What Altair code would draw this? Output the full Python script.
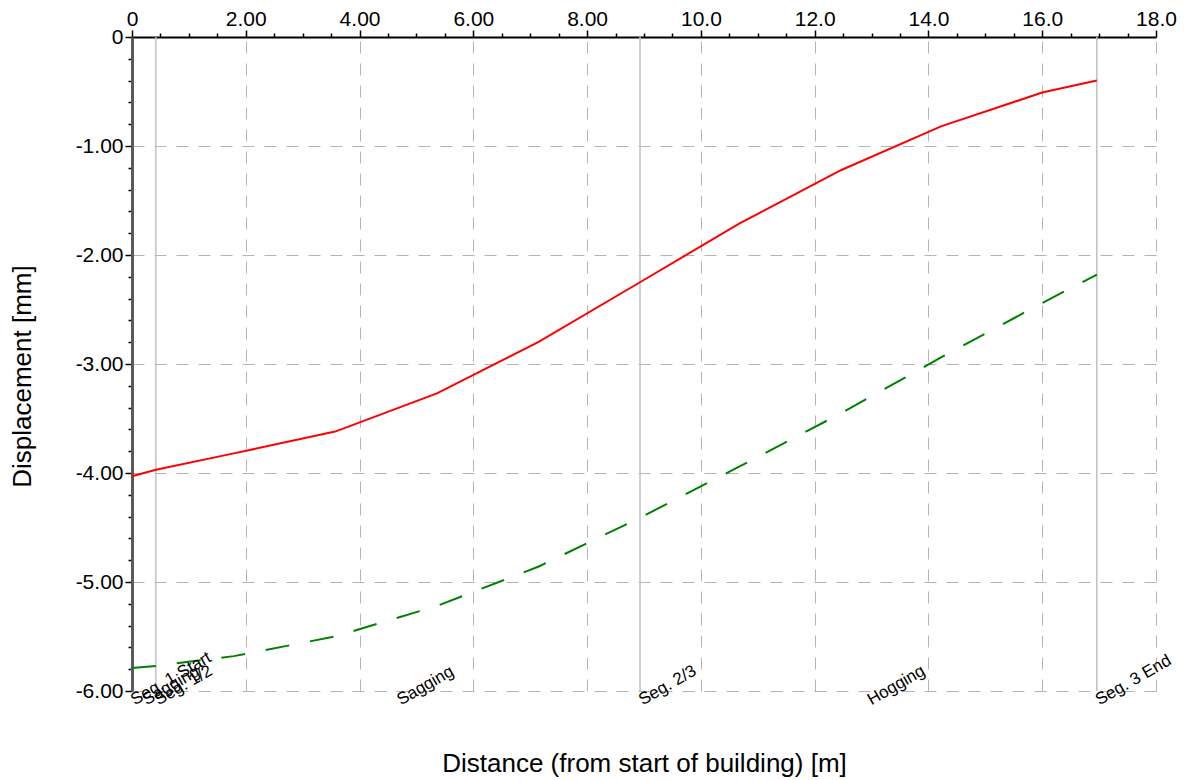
import altair as alt
import pandas as pd

# Stations along the building [m]
dist = [0, 0.42, 1.79, 3.57, 5.36, 7.14, 8.93, 10.68, 12.47, 14.22, 16.0, 16.96]
# Displacement series [mm]
red_disp = [-4.03, -3.97, -3.82, -3.62, -3.27, -2.80, -2.25, -1.71, -1.22, -0.82, -0.51, -0.40]
green_disp = [-5.79, -5.77, -5.68, -5.50, -5.22, -4.86, -4.41, -3.94, -3.45, -2.94, -2.44, -2.18]

# Segment boundaries and labels
seg_x = [0.42, 8.93, 16.96]
label_text = ["Seg. 1 Start", "Sagging", "Seg. 1/2", "Sagging", "Seg. 2/3", "Hogging", "Seg. 3 End"]
label_x = [0, 0.21, 0.42, 4.68, 8.93, 12.95, 16.96]

# Axis tick values (major + minor)
x_ticks = [i * 0.5 for i in range(37)]
y_ticks = [round(-i * 0.2, 1) + 0.0 for i in range(31)]

FONT = "Liberation Sans"

red_df = pd.DataFrame({"d": dist, "v": red_disp})
green_df = pd.DataFrame({"d": dist, "v": green_disp})
seg_df = pd.DataFrame({"d": seg_x})
lab_df = pd.DataFrame({"d": label_x, "t": label_text})

xs = alt.Scale(domain=[0, 18], nice=False, zero=False)
ys = alt.Scale(domain=[-6, 0], nice=False, zero=False)

xmaj = "datum.value % 2 == 0"
ymaj = "abs(datum.value - round(datum.value)) < 1e-6"
fmt = "replace(format(datum.value, '.3g'), '\u2212', '-')"

x_top = alt.Axis(
    orient="top", values=x_ticks, title=None,
    labelExpr=f"{xmaj} ? (datum.value == 0 ? '0' : {fmt}) : ''",
    tickSize={"condition": {"test": xmaj, "value": 7}, "value": 4},
    tickColor="black", tickWidth=1.5,
    grid=True,
    gridOpacity={"condition": {"test": xmaj, "value": 1}, "value": 0},
    gridDash=[12, 10], gridColor="#b4b4b4", gridWidth=1,
    domainColor="black", domainWidth=2,
    labelFont=FONT, labelFontSize=21, labelColor="black", labelPadding=1,
    labelFlush=False, labelOverlap=False,
)

y_left = alt.Axis(
    orient="left", values=y_ticks,
    title="Displacement [mm]",
    labelExpr=f"{ymaj} ? (datum.value == 0 ? '0' : {fmt}) : ''",
    tickSize={"condition": {"test": ymaj, "value": 7}, "value": 4},
    tickColor="black", tickWidth=1.5,
    grid=True,
    gridOpacity={"condition": {"test": ymaj, "value": 1}, "value": 0},
    gridDash=[12, 10], gridColor="#b4b4b4", gridWidth=1,
    domainColor="#5a5a5a", domainWidth=3,
    labelFont=FONT, labelFontSize=21, labelColor="black", labelPadding=2,
    labelFlush=False, labelOverlap=False,
    titleFont=FONT, titleFontSize=26, titleFontWeight="normal", titleColor="black",
    titleAngle=270, titleX=-110, titleY=339, titleAlign="center", titleBaseline="middle",
)

x_bottom = alt.Axis(
    orient="bottom", title="Distance (from start of building) [m]",
    labels=False, ticks=False, domain=False, grid=False,
    titleFont=FONT, titleFontSize=26, titleFontWeight="normal", titleColor="black",
    titlePadding=59,
)

red_line = alt.Chart(red_df).mark_line(color="#ff0000", strokeWidth=2).encode(
    x=alt.X("d:Q", scale=xs, axis=x_top),
    y=alt.Y("v:Q", scale=ys, axis=y_left),
)

green_line = alt.Chart(green_df).mark_line(
    color="#008000", strokeWidth=2, strokeDash=[24, 21]
).encode(
    x=alt.X("d:Q", scale=xs, axis=None),
    y=alt.Y("v:Q", scale=ys, axis=None),
)

seg_rules = alt.Chart(seg_df).mark_rule(color="#c0c0c0", strokeWidth=1.5).encode(
    x=alt.X("d:Q", scale=xs, axis=x_bottom),
)

seg_labels = alt.Chart(lab_df).mark_text(
    angle=330, align="left", baseline="top", fontSize=17, font=FONT,
    color="black", dx=-5, dy=1,
).encode(
    x=alt.X("d:Q", scale=xs, axis=None),
    y=alt.Y("yv:Q", scale=ys, axis=None),
    text="t:N",
).transform_calculate(yv="-6")

chart = alt.layer(seg_rules, red_line, green_line, seg_labels).resolve_axis(
    x="independent", y="independent"
).properties(
    width=1024, height=654,
    padding={"left": 132, "top": 37, "right": 28, "bottom": 89},
    autosize=alt.AutoSizeParams(type="none"),
    background="white",
).configure_view(stroke="transparent")

chart.save("out.html", embed_options={"renderer": "svg", "actions": False})
